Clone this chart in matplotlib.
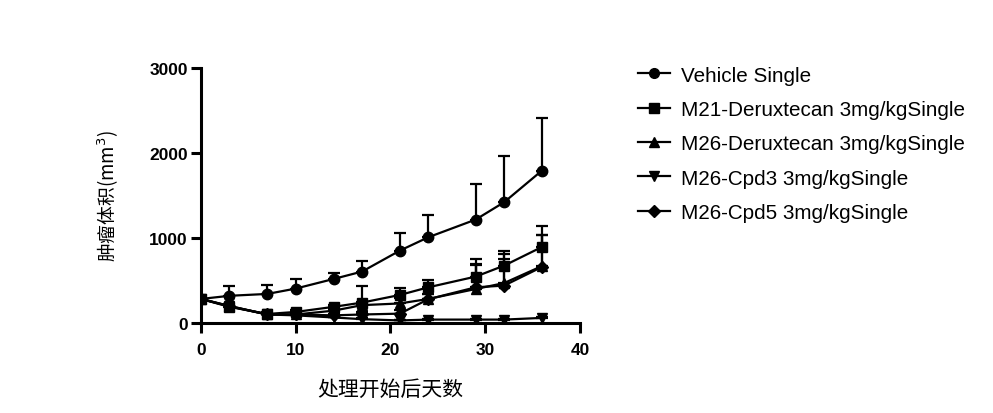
import matplotlib
matplotlib.use("Agg")
import matplotlib.pyplot as plt
import numpy as np
from matplotlib.lines import Line2D

# days after treatment start
days = [0, 3, 7, 10, 14, 17, 21, 24, 29, 32, 36]

series_names = [
    "Vehicle Single",
    "M21-Deruxtecan 3mg/kgSingle",
    "M26-Deruxtecan 3mg/kgSingle",
    "M26-Cpd3 3mg/kgSingle",
    "M26-Cpd5 3mg/kgSingle",
]
markers = ["o", "s", "^", "v", "D"]

vehicle_mean = [283, 320, 342, 405, 518, 605, 852, 1009, 1217, 1421, 1794]
vehicle_err = [0, 110, 110, 113, 70, 130, 212, 267, 420, 542, 621]

m21_mean = [283, 190, 106, 130, 190, 240, 330, 420, 546, 675, 895]
m21_err = [0, 30, 20, 20, 20, 192, 80, 90, 208, 173, 248]

m26dx_mean = [283, 200, 100, 100, 145, 210, 230, 283, 400, 470, 670]
m26dx_err = [0, 20, 20, 20, 20, 40, 60, 60, 300, 342, 366]

cpd3_mean = [283, 200, 100, 90, 65, 45, 30, 40, 40, 40, 60]
cpd3_err = [0, 20, 15, 15, 10, 10, 10, 10, 10, 10, 15]

cpd5_mean = [283, 195, 100, 100, 90, 100, 110, 280, 420, 440, 660]
cpd5_err = [0, 20, 20, 20, 20, 30, 40, 60, 260, 314, 376]

means = [vehicle_mean, m21_mean, m26dx_mean, cpd3_mean, cpd5_mean]
errs = [vehicle_err, m21_err, m26dx_err, cpd3_err, cpd5_err]

plt.rcParams['font.family'] = ['Liberation Sans', 'DejaVu Sans']

fig = plt.figure(figsize=(9.93, 4.14), dpi=100)
ax = fig.add_axes([0.2024, 0.2174, 0.3816, 0.6159])

for name, mk, m, e in zip(series_names, markers, means, errs):
    ms = 6.5 if mk == "D" else 7.5
    ax.errorbar(days, m, yerr=[np.zeros(len(e)), e], color="black",
                marker=mk, markersize=ms, linewidth=1.6, elinewidth=1.6,
                capsize=4, capthick=1.6, label=name)

ax.set_xlim(0, 40)
ax.set_ylim(0, 3000)
ax.set_xticks([0, 10, 20, 30, 40])
ax.set_yticks([0, 1000, 2000, 3000])
for side in ["top", "right"]:
    ax.spines[side].set_visible(False)
for side in ["left", "bottom"]:
    ax.spines[side].set_linewidth(2.2)
ax.tick_params(width=2.2, length=7.5, labelsize=12.5)
ax.tick_params(axis="x", pad=6)
ax.tick_params(axis="y", pad=2)
for lbl in ax.get_xticklabels() + ax.get_yticklabels():
    lbl.set_fontweight("bold")

cjk = ['Noto Sans CJK SC', 'DejaVu Sans']
ax.set_xlabel("处理开始后天数", family=cjk, fontsize=15, labelpad=15)
ax.set_ylabel("肿瘤体积(mm$^3$)", family=cjk, fontsize=13.5, labelpad=20)

# legend: short line with marker, no error bars
leg_handles = [Line2D([0], [0], color="black", marker=mk,
                      markersize=6 if mk == "D" else 7, linewidth=1.6)
               for mk in markers]
fig.legend(leg_handles, series_names, loc="upper left",
           bbox_to_anchor=(0.624, 0.884), frameon=False, fontsize=14.9,
           handlelength=1.55, labelspacing=0.74, handletextpad=0.52)

fig.savefig("out.png", dpi=100)
